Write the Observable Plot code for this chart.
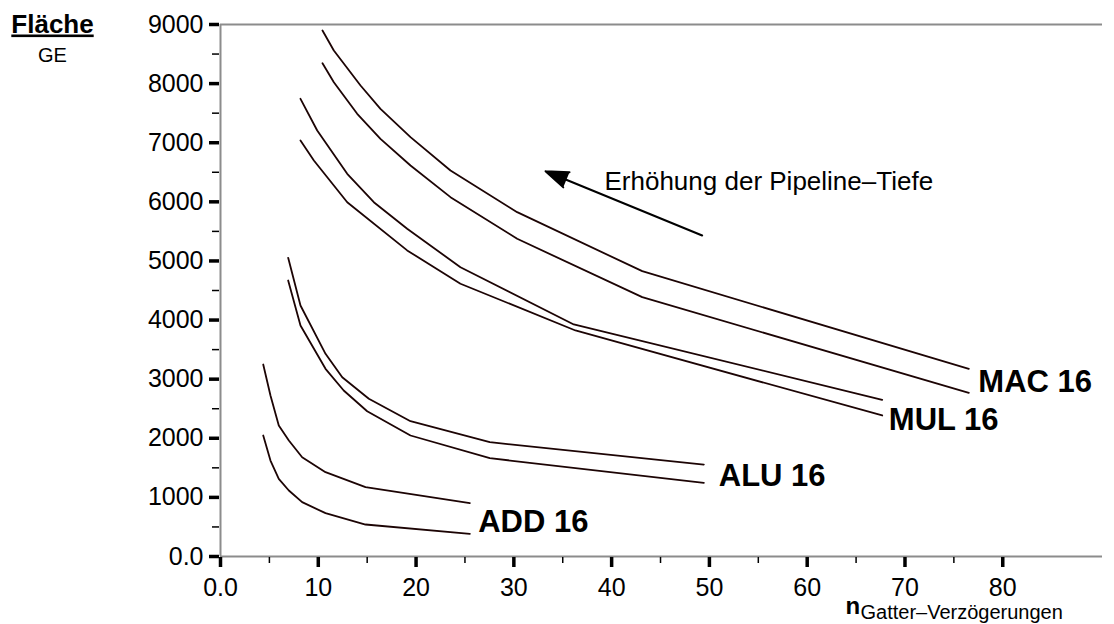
<!DOCTYPE html>
<html>
<head>
<meta charset="utf-8">
<script src="https://cdn.jsdelivr.net/npm/d3@7"></script>
<script src="https://cdn.jsdelivr.net/npm/@observablehq/plot@0.6"></script>
<style>
  html, body { margin: 0; padding: 0; background: #fff; }
  #chart { width: 1114px; height: 624px; }
</style>
</head>
<body>
<div id="chart"></div>
<script>
// ---- data ----
const macAx = [10.43, 11.59, 14.32, 16.36, 19.43, 23.52, 30.34, 43.13, 76.53];
const macAy = [8899, 8560, 7968, 7574, 7094, 6530, 5825, 4827, 3175];
const macBx = [10.43, 11.59, 13.98, 16.36, 19.43, 23.52, 30.34, 43.13, 76.53];
const macBy = [8345, 8024, 7489, 7066, 6615, 6079, 5375, 4387, 2769];

const mulAx = [8.18, 9.89, 12.96, 15.68, 19.09, 24.54, 36.13, 67.67];
const mulAy = [7743, 7207, 6474, 5994, 5544, 4894, 3925, 2651];
const mulBx = [8.18, 9.55, 12.96, 19.09, 24.54, 36.3, 67.67];
const mulBy = [7039, 6700, 5994, 5178, 4614, 3824, 2386];

const aluAx = [6.92, 8.18, 10.74, 12.45, 15.17, 19.43, 27.54, 49.43];
const aluAy = [5053, 4246, 3429, 3033, 2668, 2289, 1934, 1556];
const aluBx = [6.92, 8.18, 10.74, 12.6, 15.0, 19.43, 27.54, 49.43];
const aluBy = [4669, 3908, 3175, 2808, 2458, 2047, 1663, 1247];

const addAx = [4.37, 5.11, 5.96, 6.99, 8.35, 10.74, 14.83, 25.5];
const addAy = [3248, 2724, 2216, 1962, 1680, 1426, 1173, 902];
const addBx = [4.37, 5.11, 5.96, 6.99, 8.35, 10.74, 14.83, 25.5];
const addBy = [2047, 1624, 1314, 1117, 919, 733, 541, 384];

const labelNames = ["MAC 16", "MUL 16", "ALU 16", "ADD 16"];
const labelX = [77.5, 68.35, 50.96, 26.35];
const labelY = [2780, 2132, 1201, 411];

const xTicks = [0, 10, 20, 30, 40, 50, 60, 70, 80];
const xTickLabels = ["0.0", "10", "20", "30", "40", "50", "60", "70", "80"];
const xMinor = [5, 15, 25, 35, 45, 55, 65, 75];
const yTicks = [0, 1000, 2000, 3000, 4000, 5000, 6000, 7000, 8000, 9000];
const yTickLabels = ["0.0", "1000", "2000", "3000", "4000", "5000", "6000", "7000", "8000", "9000"];
const yMinor = [500, 1500, 2500, 3500, 4500, 5500, 6500, 7500, 8500];

const xMax = 90.2;
const yMax = 9000;

const arrowTail = [49.26, 5431];
const arrowTip = [33.24, 6518];
const arrowText = "Erhöhung der Pipeline–Tiefe";
const arrowTextPos = [39.27, 6192];

// ---- layout ----
const W = 1114, H = 624, mL = 220, mR = 12, mT = 24, mB = 68;
// tick lengths expressed in data units so the rules are drawn through the scales
const pxPerX = (W - mL - mR) / xMax;
const pxPerY = (H - mT - mB) / yMax;
const majorLenX = 10 / pxPerX, minorLenX = 7 / pxPerX;
const majorLenY = 10 / pxPerY, minorLenY = 6 / pxPerY;

// ---- build tables ----
const series = [
  ["MAC 16 a", macAx, macAy], ["MAC 16 b", macBx, macBy],
  ["MUL 16 a", mulAx, mulAy], ["MUL 16 b", mulBx, mulBy],
  ["ALU 16 a", aluAx, aluAy], ["ALU 16 b", aluBx, aluBy],
  ["ADD 16 a", addAx, addAy], ["ADD 16 b", addBx, addBy]
];
const lines = series.flatMap(([name, xs, ys]) => xs.map((x, i) => ({name, x, y: ys[i]})));
const labels = labelNames.map((t, i) => ({t, x: labelX[i], y: labelY[i]}));
const font = "'Liberation Sans', Arial, Helvetica, sans-serif";
const xFmt = d => xTickLabels[xTicks.indexOf(d)];
const yFmt = d => yTickLabels[yTicks.indexOf(d)];

const chart = Plot.plot({
  width: W,
  height: H,
  marginLeft: mL,
  marginRight: mR,
  marginTop: mT,
  marginBottom: mB,
  style: {fontFamily: font, color: "#000", background: "#fff"},
  x: {domain: [0, xMax], axis: null},
  y: {domain: [0, yMax], axis: null},
  marks: [
    // frame lines
    Plot.ruleY([0, yMax], {stroke: "#8c8c8c", strokeWidth: 2}),
    Plot.ruleX([0], {stroke: "#8c8c8c", strokeWidth: 2}),
    // minor ticks
    Plot.ruleY(yMinor, {y: d => d, x1: -minorLenX, x2: 0, stroke: "#000", strokeWidth: 1.5, dx: -1}),
    Plot.ruleX(xMinor, {x: d => d, y1: -minorLenY, y2: 0, stroke: "#000", strokeWidth: 1.5, dy: 1}),
    // major ticks
    Plot.ruleY(yTicks, {y: d => d, x1: -majorLenX, x2: 0, stroke: "#000", strokeWidth: 3.5, dx: -1}),
    Plot.ruleX(xTicks, {x: d => d, y1: -majorLenY, y2: 0, stroke: "#000", strokeWidth: 3.5, dy: 1}),
    // tick labels
    Plot.text(yTicks, {x: 0, y: d => d, text: yFmt, textAnchor: "end", lineAnchor: "middle", dx: -17,
      fontSize: 25, fill: "#000"}),
    Plot.text(xTicks, {x: d => d, y: 0, text: xFmt, textAnchor: "middle", lineAnchor: "top", dy: 22,
      fontSize: 25, fill: "#000"}),
    // curves
    Plot.line(lines, {x: "x", y: "y", z: "name", stroke: "#1c0404", strokeWidth: 1.8, curve: "linear"}),
    // curve labels
    Plot.text(labels, {x: "x", y: "y", text: "t", textAnchor: "start", lineAnchor: "bottom",
      fontSize: 31, fontWeight: "bold", fill: "#000"}),
    // arrow annotation
    Plot.arrow([{x1: arrowTail[0], y1: arrowTail[1], x2: arrowTip[0], y2: arrowTip[1]}],
      {x1: "x1", y1: "y1", x2: "x2", y2: "y2", stroke: "#000", fill: "#000", strokeWidth: 2,
       headLength: 18, headAngle: 40}),
    Plot.text([arrowText], {x: arrowTextPos[0], y: arrowTextPos[1], textAnchor: "start", lineAnchor: "bottom",
      fontSize: 26, fill: "#000"}),
    // y axis title
    Plot.text(["Fläche"], {frameAnchor: "top-left", dx: -168, dy: 8, textAnchor: "middle", lineAnchor: "bottom",
      fontSize: 26, fontWeight: "bold", fill: "#000"}),
    Plot.text(["GE"], {frameAnchor: "top-left", dx: -168, dy: 37, textAnchor: "middle", lineAnchor: "bottom",
      fontSize: 20, fill: "#000"}),
    // x axis title
    Plot.text(["n"], {frameAnchor: "bottom-left", dx: 625, dy: 57, textAnchor: "start", lineAnchor: "bottom",
      fontSize: 24, fontWeight: "bold", fill: "#000"}),
    Plot.text(["Gatter–Verzögerungen"], {frameAnchor: "bottom-left", dx: 640, dy: 62, textAnchor: "start", lineAnchor: "bottom",
      fontSize: 20, fill: "#000"})
  ]
});

d3.select(chart).selectAll("text")
  .filter(function() { return this.textContent === "Fläche"; })
  .style("text-decoration", "underline");

document.getElementById("chart").appendChild(chart);
</script>
</body>
</html>
